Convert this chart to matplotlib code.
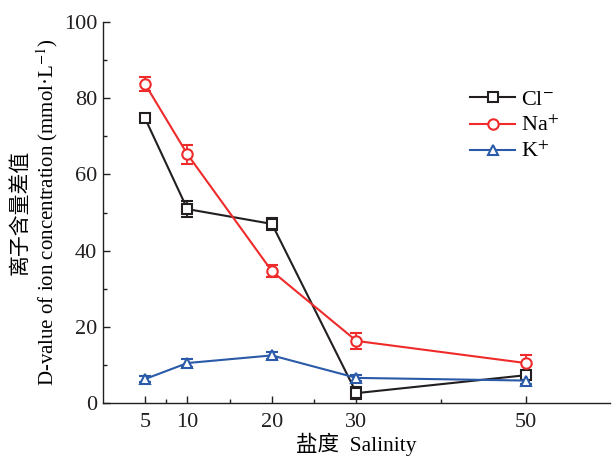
import matplotlib
matplotlib.use("Agg")
import matplotlib.pyplot as plt
from matplotlib.ticker import FixedLocator
from matplotlib.lines import Line2D

plt.rcParams['font.family'] = ['Liberation Serif', 'Noto Sans CJK SC']
plt.rcParams['mathtext.fontset'] = 'stix'

salinity = [5, 10, 20, 30, 50]
cl = [74.7, 50.9, 47.0, 2.6, 7.3]
cl_err = [1.0, 2.2, 1.5, 1.5, 1.0]
na = [83.7, 65.3, 34.6, 16.3, 10.5]
na_err = [1.8, 2.5, 1.5, 2.0, 2.0]
k = [6.3, 10.5, 12.5, 6.6, 5.9]
k_err = [0.8, 1.0, 1.0, 0.8, 1.0]
labels = [r'Cl$^{-}$', r'Na$^{+}$', r'K$^{+}$']

c_black = '#231f20'
c_red = '#ee2a2a'
c_blue = '#2a5aa8'

fig = plt.figure(figsize=(6.12, 4.58), dpi=100)
ax = fig.add_axes([0.168, 0.120, 0.829, 0.832])

base = dict(lw=1.5, mfc='white', mew=1.5, capsize=4, elinewidth=1.3, capthick=1.3)
series = [(cl, cl_err, c_black, 's', 6.5), (na, na_err, c_red, 'o', 7.5), (k, k_err, c_blue, '^', 7.5)]
handles = []
for (vals, err, col, mk, ms), lab in zip(series, labels):
    ax.errorbar(salinity, vals, yerr=err, color=col, marker=mk, ms=ms, **base)
    handles.append(Line2D([], [], color=col, marker=mk, ms=ms, mfc='white', mew=1.5, lw=1.5, label=lab))

ax.set_xlim(0, 60)
ax.set_ylim(0, 100)
ax.xaxis.set_major_locator(FixedLocator(salinity))
ax.xaxis.set_minor_locator(FixedLocator([7.5, 15, 25, 40]))
ax.yaxis.set_major_locator(FixedLocator([0, 20, 40, 60, 80, 100]))
ax.yaxis.set_minor_locator(FixedLocator([10, 30, 50, 70, 90]))
ax.tick_params(which='both', direction='in', labelsize=16, width=1, colors=c_black)
ax.tick_params(which='major', length=5)
ax.tick_params(which='minor', length=3)
ax.tick_params(axis='x', pad=7)
ax.tick_params(axis='y', pad=4)
for s in ['top', 'right']:
    ax.spines[s].set_visible(False)
for s in ['left', 'bottom']:
    ax.spines[s].set_color(c_black)
    ax.spines[s].set_linewidth(1.0)

ax.set_xlabel('盐度  Salinity', fontsize=15.5, labelpad=1)
ax.set_ylabel('离子含量差值\nD-value of ion concentration (mmol·L$^{-1}$)', fontsize=15, labelpad=3, linespacing=1.2)

ax.legend(handles=handles, loc='upper left', bbox_to_anchor=(0.685, 0.875), frameon=False, fontsize=16,
          handlelength=2.0, handletextpad=0.3, labelspacing=0.25)

fig.savefig('out.png', dpi=100)
